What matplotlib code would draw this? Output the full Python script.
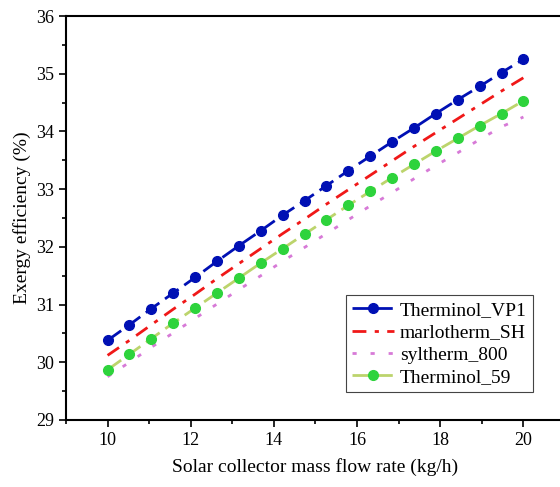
import matplotlib.pyplot as plt
import numpy as np
from matplotlib.ticker import MultipleLocator

# mass flow rate samples (kg/h)
flow = np.linspace(10, 20, 20)

vp1 = [30.38, 30.65, 30.93, 31.20, 31.47, 31.75, 32.02, 32.28, 32.55, 32.80,
       33.06, 33.32, 33.57, 33.82, 34.06, 34.31, 34.55, 34.78, 35.02, 35.25]
marlo_sh = [30.12, 30.38, 30.65, 30.92, 31.18, 31.45, 31.71, 31.97, 32.23, 32.48,
            32.74, 32.99, 33.24, 33.49, 33.74, 33.98, 34.22, 34.46, 34.70, 34.93]
syl_800 = [29.75, 30.00, 30.26, 30.51, 30.76, 31.01, 31.26, 31.50, 31.75, 31.99,
           32.23, 32.47, 32.71, 32.94, 33.18, 33.41, 33.63, 33.86, 34.08, 34.25]
t59 = [29.87, 30.14, 30.41, 30.68, 30.94, 31.20, 31.46, 31.72, 31.97, 32.22,
       32.47, 32.72, 32.96, 33.20, 33.43, 33.66, 33.88, 34.10, 34.31, 34.53]

plt.rcParams['font.family'] = ['Liberation Serif', 'DejaVu Serif']
plt.rcParams['font.size'] = 13

fig = plt.figure(figsize=(5.6, 4.87), dpi=100)
ax = fig.add_axes([66/560, 1-420/487, 499/560, 404/487])

ax.plot(flow, vp1, color='#0010b4', ls=(0, (6, 2.5)), lw=2, marker='o', ms=7,
        label='Therminol_VP1')
ax.plot(flow, marlo_sh, color='#f01818', ls=(0, (5, 3, 1.5, 3)), lw=2,
        label='marlotherm_SH')
ax.plot(flow, syl_800, color='#d77ad7', ls=(0, (1.5, 5)), lw=2,
        label='syltherm_800')
ax.plot(flow, t59, color='#bcd46c', ls=(0, (6, 2.5)), lw=2, marker='o', ms=7,
        mfc='#2ed33c', mec='#2ed33c', label='Therminol_59')

ax.set_xlim(9, 21)
ax.set_ylim(29, 36)
ax.xaxis.set_major_locator(MultipleLocator(2))
ax.xaxis.set_minor_locator(MultipleLocator(1))
ax.yaxis.set_major_locator(MultipleLocator(1))
ax.yaxis.set_minor_locator(MultipleLocator(0.5))
ax.tick_params(which='both', direction='out', top=False, right=False)
ax.tick_params(which='major', length=5, width=1.2)
ax.tick_params(which='minor', length=3, width=1.2)
for s in ax.spines.values():
    s.set_linewidth(1.5)

ax.set_xlabel('Solar collector mass flow rate (kg/h)', fontsize=14, labelpad=7)
ax.set_ylabel('Exergy efficiency (%)', fontsize=14, labelpad=4)

leg = ax.legend(loc='lower right', bbox_to_anchor=(0.955, 0.045), fontsize=14,
                fancybox=False, edgecolor='#444444', framealpha=1,
                handlelength=2.2, borderpad=0.3, labelspacing=0.25,
                handletextpad=0.3)
leg.get_frame().set_linewidth(0.8)

fig.savefig('out.png', dpi=100)
